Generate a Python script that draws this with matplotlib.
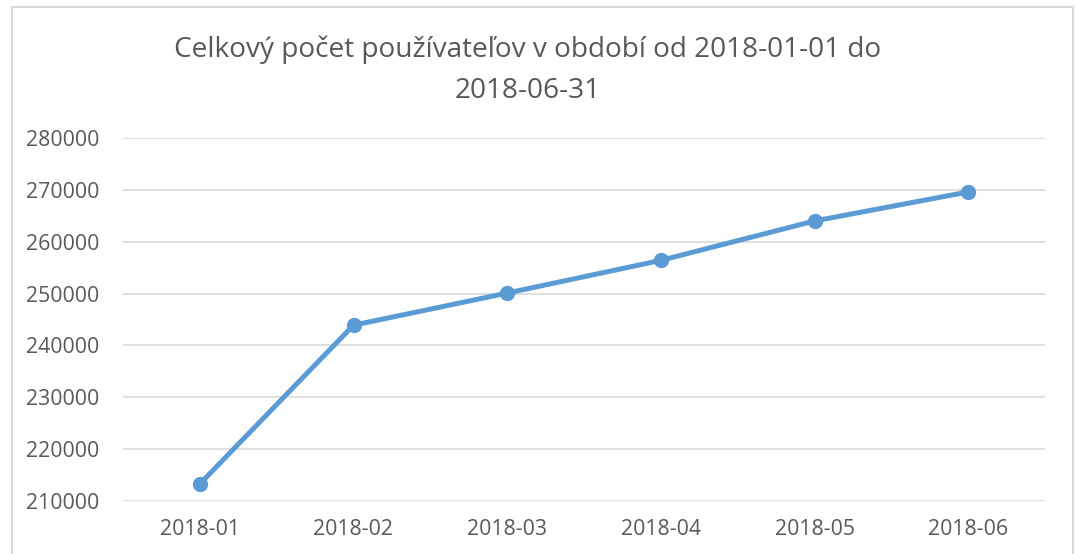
import matplotlib
matplotlib.use("Agg")
import matplotlib.pyplot as plt
from matplotlib.lines import Line2D

months = ["2018-01", "2018-02", "2018-03", "2018-04", "2018-05", "2018-06"]
users = [213300, 243900, 250100, 256400, 264000, 269600]
y_ticks = [210000, 220000, 230000, 240000, 250000, 260000, 270000, 280000]
title_text = "Celkový počet používateľov v období od 2018-01-01 do\n2018-06-31"

W, H = 1077, 554
fig = plt.figure(figsize=(W / 100, H / 100), dpi=100)
plt.rcParams['font.family'] = ['Open Sans', 'DejaVu Sans']
txt = "#595959"
grid = "#D9D9D9"
blue = "#5B9BD5"

ax = fig.add_axes([123 / W, 1 - 501 / H, (1045 - 123) / W, (501 - 138) / H])
x = list(range(len(months)))
ax.plot(x, users, color=blue, linewidth=3.6, marker="o", markersize=10,
        solid_capstyle="round", zorder=3)
ax.set_xlim(-0.5, len(months) - 0.5)
ax.set_ylim(y_ticks[0], y_ticks[-1])
ax.set_yticks(y_ticks)
ax.set_yticklabels([str(v) for v in y_ticks])
ax.set_xticks(x)
ax.set_xticklabels(months)
ax.tick_params(axis="both", length=0, colors=txt, labelsize=15.3)
ax.tick_params(axis="y", pad=17)
ax.tick_params(axis="x", pad=13)
for s in ax.spines.values():
    s.set_visible(False)
ax.grid(axis="y", color=grid, linewidth=1.2)
ax.set_axisbelow(True)

fig.text(528 / W, 1 - 70 / H, title_text, ha="center", va="center",
         fontsize=20.2, color=txt, linespacing=1.62)

# chart border
bc = "#D9D9D9"
fig.add_artist(Line2D([12 / W, 12 / W], [0, 1 - 7 / H], color=bc, linewidth=1.5, transform=fig.transFigure))
fig.add_artist(Line2D([12 / W, 1073 / W], [1 - 7 / H, 1 - 7 / H], color=bc, linewidth=1.5, transform=fig.transFigure))
fig.add_artist(Line2D([1073 / W, 1073 / W], [0, 1 - 7 / H], color=bc, linewidth=1.5, transform=fig.transFigure))

fig.savefig("out.png", dpi=100)
